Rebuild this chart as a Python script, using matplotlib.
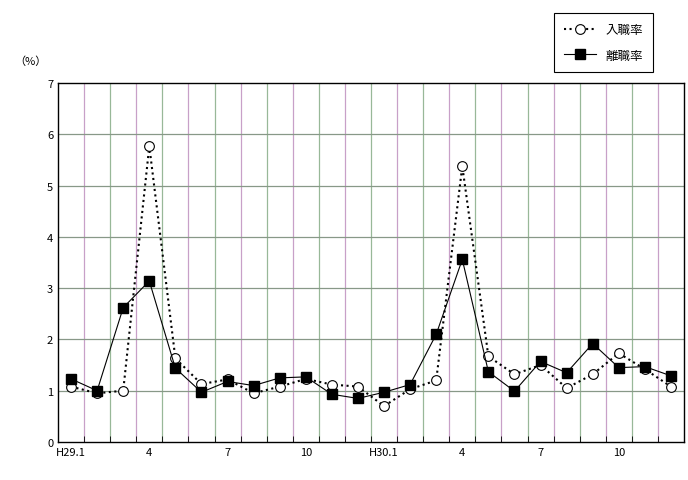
import matplotlib
matplotlib.use("Agg")
import matplotlib.pyplot as plt
import numpy as np

plt.rcParams['font.family'] = ['Noto Sans CJK JP', 'DejaVu Sans']

labels = ["H29.1","","","4","","","7","","","10","","","H30.1","","","4","","","7","","","10","",""]
hire = [1.08,0.95,1.0,5.77,1.63,1.13,1.22,0.95,1.08,1.23,1.12,1.08,0.70,1.03,1.20,5.38,1.67,1.32,1.50,1.05,1.32,1.73,1.42,1.08]
sep = [1.23,1.00,2.62,3.14,1.44,0.97,1.18,1.10,1.25,1.27,0.93,0.85,0.97,1.12,2.10,3.56,1.37,0.99,1.57,1.35,1.92,1.45,1.47,1.29]

fig = plt.figure(figsize=(6.88,4.81), dpi=100)
ax = fig.add_axes([58/688, 1-443/481, 626/688, 359/481])
x = np.arange(len(hire))
ax.set_xlim(-0.5, len(hire)-0.5)
ax.set_ylim(0, 7)
for i in range(1, len(hire)):
    ax.axvline(i-0.5, color='#c8a0c8' if i % 2 else '#98b898', lw=0.9, zorder=0)
for yv in range(1, 7):
    ax.axhline(yv, color='#889888', lw=0.9, zorder=0)
ax.plot(x, hire, ls=':', color='black', lw=1.5, marker='o', ms=7, mfc='white', mec='black', mew=0.8, label='入職率', zorder=3)
ax.plot(x, sep, ls='-', color='black', lw=0.8, marker='s', ms=6.5, mfc='black', mec='black', label='離職率', zorder=3)
ax.set_xticks(x)
ax.set_xticklabels(labels, fontsize=8)
ax.set_xticks(np.arange(-0.5, len(hire), 1), minor=True)
ax.tick_params(axis='x', which='major', length=0)
ax.tick_params(axis='x', which='minor', length=4, direction='in')
ax.set_yticks(range(0, 8))
ax.tick_params(axis='y', labelsize=8, length=0)
for s in ax.spines.values():
    s.set_linewidth(1.0)
fig.text(14/688, 1-62/481, '（%）', fontsize=8, va='center')
leg = fig.legend(loc='upper left', bbox_to_anchor=(548/688, 1-8/481), fontsize=9,
                 fancybox=False, edgecolor='black', framealpha=1, borderpad=0.8, labelspacing=1.0, handlelength=2.5)
leg.get_frame().set_linewidth(0.8)
fig.savefig('out.png', dpi=100)
